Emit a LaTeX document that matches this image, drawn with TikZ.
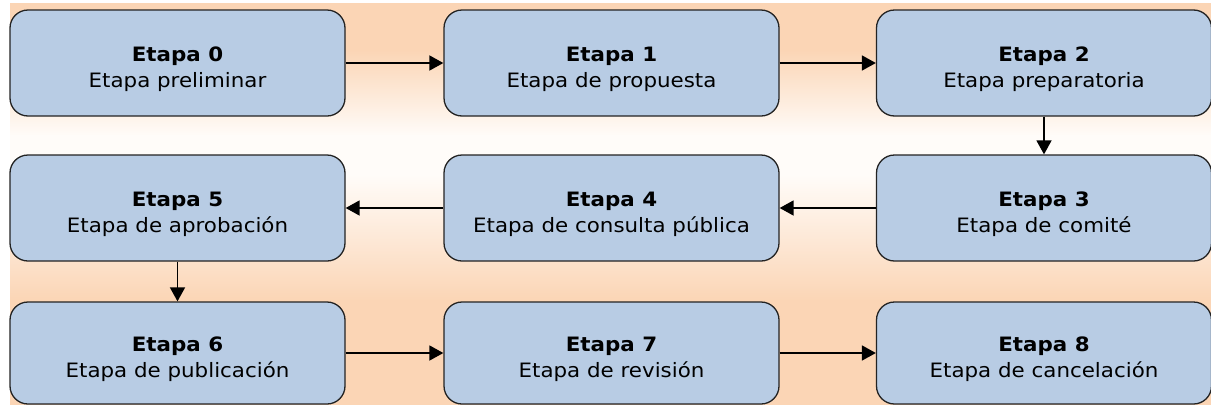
\documentclass[tikz,border=0pt]{standalone}
\usepackage{fontspec}
\setmainfont{DejaVu Sans}[FakeStretch=1.08]
\usetikzlibrary{arrows.meta}
\definecolor{peach}{RGB}{251,213,181}
\definecolor{cream}{RGB}{255,252,249}
\definecolor{boxfill}{RGB}{184,204,228}
\definecolor{boxline}{RGB}{35,35,35}
\tikzset{
  stagebox/.style={draw=boxline, line width=1.3pt, fill=boxfill, rounded corners=18pt,
    minimum width=335pt, minimum height=106pt, inner sep=0pt, align=center,
    font=\fontsize{19.8}{25.6}\selectfont},
  conn/.style={line width=1.7pt, -{Triangle[length=14pt,width=15pt]}},
}
\newcommand{\stg}[2]{\rule{0pt}{28.4pt}\textbf{#1}\\#2\rule[-5pt]{0pt}{5pt}}
\begin{document}
\begin{tikzpicture}[x=1pt,y=-1pt]
\useasboundingbox (0,0) rectangle (1211,405);
% background gradient
\fill[peach] (10,3) rectangle (1211,51);
\fill[top color=peach, bottom color=cream, draw=none] (10,50) rectangle (1211,136);
\fill[cream] (10,135) rectangle (1211,176);
\fill[top color=cream, bottom color=peach, draw=none] (10,175) rectangle (1211,301);
\fill[peach] (10,300) rectangle (1211,405);
% boxes
\node[stagebox] (b0) at (177.5,63) {\stg{Etapa 0}{Etapa preliminar}};
\node[stagebox] (b1) at (611.5,63) {\stg{Etapa 1}{Etapa de propuesta}};
\node[stagebox] (b2) at (1044,63) {\stg{Etapa 2}{Etapa preparatoria}};
\node[stagebox] (b5) at (177.5,208) {\stg{Etapa 5}{Etapa de aprobación}};
\node[stagebox] (b4) at (611.5,208) {\stg{Etapa 4}{Etapa de consulta pública}};
\node[stagebox] (b3) at (1044,208) {\stg{Etapa 3}{Etapa de comité}};
\node[stagebox, minimum height=102pt] (b6) at (177.5,353) {\stg{Etapa 6}{Etapa de publicación}};
\node[stagebox, minimum height=102pt] (b7) at (611.5,353) {\stg{Etapa 7}{Etapa de revisión}};
\node[stagebox, minimum height=102pt] (b8) at (1044,353) {\stg{Etapa 8}{Etapa de cancelación}};
% connectors
\draw[conn] (b0.east) -- (b1.west);
\draw[conn] (b1.east) -- (b2.west);
\draw[conn] (b2.south) -- (b3.north);
\draw[conn] (b3.west) -- (b4.east);
\draw[conn] (b4.west) -- (b5.east);
\draw[conn] (b5.south) -- (b6.north);
\draw[conn] (b6.east) -- (b7.west);
\draw[conn] (b7.east) -- (b8.west);
\end{tikzpicture}
\end{document}
